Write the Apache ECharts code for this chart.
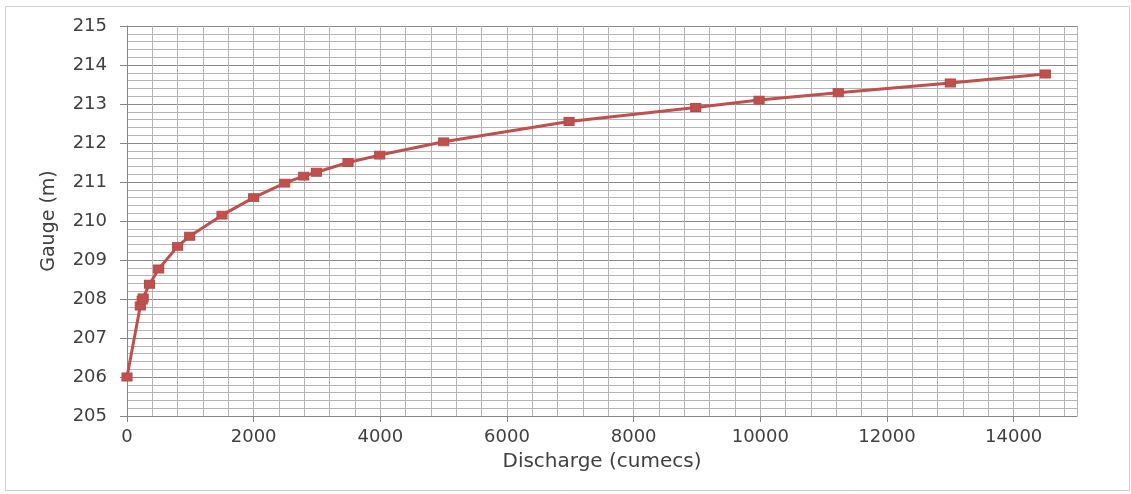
<!DOCTYPE html>
<html>
<head>
<meta charset="utf-8">
<script src="https://cdn.jsdelivr.net/npm/echarts@6/dist/echarts.min.js"></script>
<style>html,body{margin:0;padding:0;background:#fff}#c{width:1131px;height:494px}</style>
</head>
<body>
<div id="c"></div>
<script>
const discharge = [0, 210, 240, 255, 355, 500, 800, 990, 1500, 2000, 2490, 2790, 2990, 3490, 3990, 5000, 6980, 8980, 9980, 11230, 13000, 14500];
const gauge = [206.0, 207.82, 207.97, 208.03, 208.38, 208.77, 209.35, 209.61, 210.15, 210.6, 210.97, 211.15, 211.25, 211.5, 211.69, 212.03, 212.55, 212.91, 213.1, 213.29, 213.54, 213.77];
const xTicks = [0, 2000, 4000, 6000, 8000, 10000, 12000, 14000];
const yTicks = [205, 206, 207, 208, 209, 210, 211, 212, 213, 214, 215];

const FONT = 'DejaVu Sans';
const chart = echarts.init(document.getElementById('c'));
chart.setOption({
  animation: false,
  backgroundColor: '#ffffff',
  graphic: [{
    type: 'rect', shape: {x: 5.5, y: 6.5, width: 1124, height: 484},
    style: {fill: 'none', stroke: '#d0d0d0', lineWidth: 1}, silent: true, z: -10
  }],
  grid: {left: 127, right: 54, top: 26, bottom: 78},
  xAxis: [{
    type: 'value', min: 0, max: 15000, interval: 2000,
    name: 'Discharge (cumecs)', nameLocation: 'middle', nameGap: 36,
    nameTextStyle: {fontFamily: FONT, fontSize: 20, color: '#404040'},
    axisLine: {show: true, lineStyle: {color: '#868686', width: 1}},
    axisTick: {show: true, inside: false, length: 6, lineStyle: {color: '#868686'}},
    axisLabel: {show: true, margin: 12, fontFamily: FONT, fontSize: 18, color: '#404040',
      showMaxLabel: false,
      formatter: v => xTicks.indexOf(v) >= 0 ? String(v) : ''},
    splitLine: {show: true, lineStyle: {color: '#8a8a8a', width: 1}}
  }, {
    type: 'value', min: 0, max: 15000, interval: 400, position: 'bottom',
    axisLine: {show: false}, axisTick: {show: false}, axisLabel: {show: false},
    splitLine: {show: true, lineStyle: {color: '#b4b4b4', width: 1}}
  }],
  yAxis: {
    type: 'value', min: 205, max: 215, interval: 1,
    name: 'Gauge (m)', nameLocation: 'middle', nameGap: 68, nameRotate: 90,
    nameTextStyle: {fontFamily: FONT, fontSize: 19, color: '#404040'},
    axisLine: {show: true, lineStyle: {color: '#868686', width: 1}},
    axisTick: {show: true, inside: false, length: 7, lineStyle: {color: '#868686'}},
    axisLabel: {show: true, margin: 20, fontFamily: FONT, fontSize: 18, color: '#404040',
      formatter: v => yTicks.indexOf(v) >= 0 ? String(v) : ''},
    splitLine: {show: true, lineStyle: {color: '#8a8a8a', width: 1}},
    minorTick: {show: false, splitNumber: 5},
    minorSplitLine: {show: true, lineStyle: {color: '#b4b4b4', width: 1}}
  },
  series: [{
    type: 'line',
    xAxisIndex: 0,
    data: discharge.map((d, i) => [d, gauge[i]]),
    symbol: 'rect', symbolSize: [10, 8],
    showAllSymbol: true,
    lineStyle: {color: '#c0504d', width: 3},
    itemStyle: {color: '#c0504d', borderColor: '#b84946', borderWidth: 1},
    z: 5
  }]
});
</script>
</body>
</html>
